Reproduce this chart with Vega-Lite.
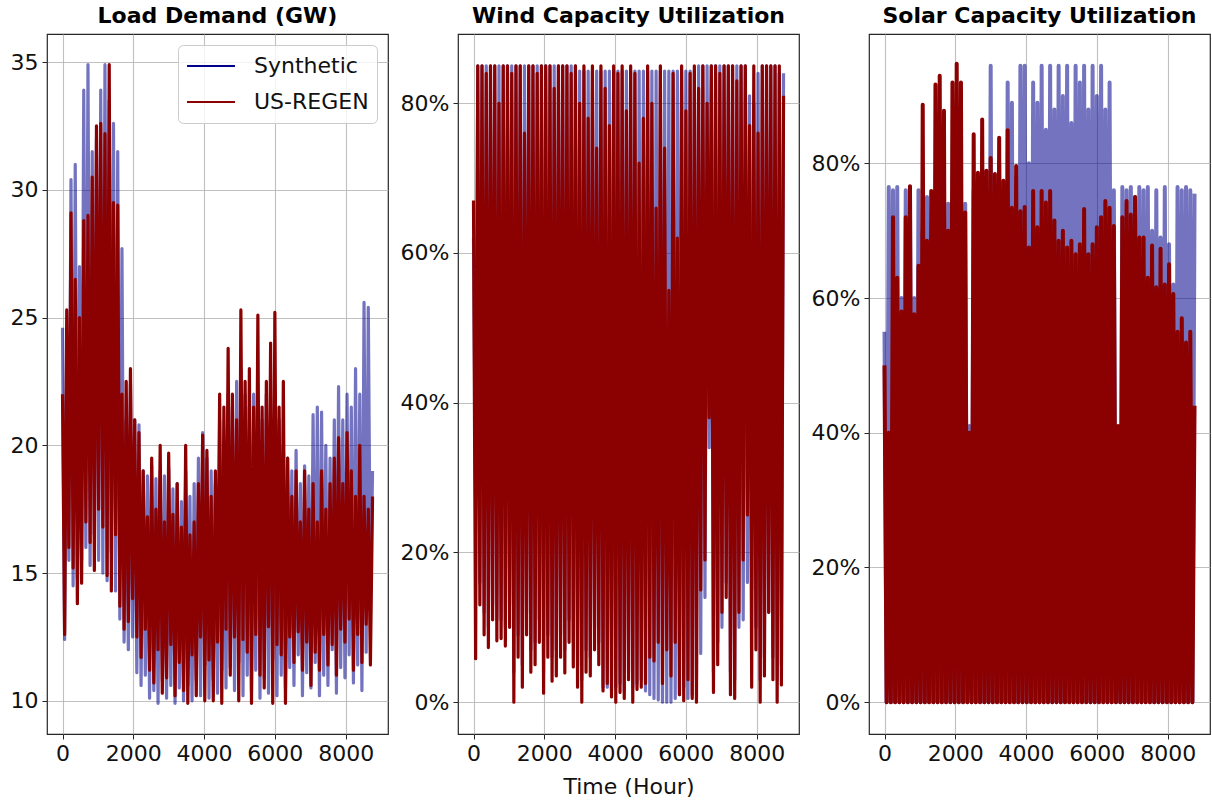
{
 "$schema": "https://vega.github.io/schema/vega-lite/v6.json",
 "padding": {"left": 9, "top": 4, "right": 2, "bottom": 5},
 "background": "white",
 "spacing": 70,
 "bounds": "flush",
 "resolve": {"scale": {"color": "independent"}},
 "config": {
  "font": "DejaVu Sans",
  "view": {"stroke": "#262626", "strokeWidth": 1.2},
  "axis": {"labelFontSize": 22, "labelColor": "#111111", "tickColor": "#262626", "tickSize": 5, "labelPadding": 4, "domain": false, "gridColor": "#b0b0b0", "gridOpacity": 0.8, "gridWidth": 1.1, "titleFontSize": 22, "titleFontWeight": "normal", "titleColor": "#111111", "titlePadding": 12},
  "title": {"fontSize": 22, "fontWeight": "bold", "offset": 6, "color": "#000000"},
  "legend": {"fillColor": "rgba(255,255,255,0.8)", "strokeColor": "#cccccc", "cornerRadius": 5, "padding": 8, "labelFontSize": 22, "labelColor": "#111111", "symbolType": "stroke", "symbolSize": 2300, "symbolStrokeWidth": 2, "labelOffset": 18, "clipHeight": 26, "rowPadding": 10, "labelLimit": 300}
 },
 "datasets": {
  "load": [
{"h":0,"Synthetic":24.6,"US-REGEN":22},{"h":60,"Synthetic":12.4,"US-REGEN":12.6},{"h":120,"Synthetic":24,"US-REGEN":25.3},{"h":180,"Synthetic":15.5,"US-REGEN":16},{"h":240,"Synthetic":30.4,"US-REGEN":29.1},{"h":300,"Synthetic":14.5,"US-REGEN":15.2},{"h":360,"Synthetic":31,"US-REGEN":26.5},{"h":420,"Synthetic":14.8,"US-REGEN":13.8},{"h":480,"Synthetic":27,"US-REGEN":25},{"h":540,"Synthetic":15.5,"US-REGEN":14.6},
{"h":600,"Synthetic":33.9,"US-REGEN":28.8},{"h":660,"Synthetic":16,"US-REGEN":17},{"h":720,"Synthetic":34.9,"US-REGEN":29},{"h":780,"Synthetic":15.3,"US-REGEN":16.2},{"h":840,"Synthetic":31.5,"US-REGEN":30.5},{"h":900,"Synthetic":16.5,"US-REGEN":15.1},{"h":960,"Synthetic":32,"US-REGEN":32.5},{"h":1020,"Synthetic":15.5,"US-REGEN":17.5},{"h":1080,"Synthetic":33.9,"US-REGEN":32.6},{"h":1140,"Synthetic":15,"US-REGEN":16.8},
{"h":1200,"Synthetic":34.9,"US-REGEN":32.2},{"h":1260,"Synthetic":14.7,"US-REGEN":14.9},{"h":1320,"Synthetic":33.5,"US-REGEN":34.9},{"h":1380,"Synthetic":15.8,"US-REGEN":14.3},{"h":1440,"Synthetic":32.6,"US-REGEN":29.5},{"h":1500,"Synthetic":14.3,"US-REGEN":16.5},{"h":1560,"Synthetic":31.5,"US-REGEN":29.4},{"h":1620,"Synthetic":13.2,"US-REGEN":13.7},{"h":1680,"Synthetic":27.7,"US-REGEN":22},{"h":1740,"Synthetic":12.3,"US-REGEN":12.8},
{"h":1800,"Synthetic":21,"US-REGEN":22.5},{"h":1860,"Synthetic":12,"US-REGEN":13.1},{"h":1920,"Synthetic":22.4,"US-REGEN":23},{"h":1980,"Synthetic":12.5,"US-REGEN":14},{"h":2040,"Synthetic":21,"US-REGEN":21},{"h":2100,"Synthetic":11.1,"US-REGEN":12.5},{"h":2160,"Synthetic":20.8,"US-REGEN":20.5},{"h":2220,"Synthetic":10.6,"US-REGEN":11.7},{"h":2280,"Synthetic":19,"US-REGEN":19},{"h":2340,"Synthetic":11,"US-REGEN":12.8},
{"h":2400,"Synthetic":18.8,"US-REGEN":17.2},{"h":2460,"Synthetic":10.1,"US-REGEN":11.2},{"h":2520,"Synthetic":19.2,"US-REGEN":19.5},{"h":2580,"Synthetic":10.4,"US-REGEN":10.7},{"h":2640,"Synthetic":18.7,"US-REGEN":17.5},{"h":2700,"Synthetic":9.9,"US-REGEN":12},{"h":2760,"Synthetic":19,"US-REGEN":20},{"h":2820,"Synthetic":10.8,"US-REGEN":10.3},{"h":2880,"Synthetic":18.8,"US-REGEN":17},{"h":2940,"Synthetic":10.1,"US-REGEN":10.9},
{"h":3000,"Synthetic":19.1,"US-REGEN":19.7},{"h":3060,"Synthetic":10.6,"US-REGEN":12.2},{"h":3120,"Synthetic":18.3,"US-REGEN":17.3},{"h":3180,"Synthetic":9.9,"US-REGEN":10.2},{"h":3240,"Synthetic":18.5,"US-REGEN":18.5},{"h":3300,"Synthetic":10.5,"US-REGEN":11.5},{"h":3360,"Synthetic":17.8,"US-REGEN":16.8},{"h":3420,"Synthetic":10,"US-REGEN":10.4},{"h":3480,"Synthetic":19,"US-REGEN":20},{"h":3540,"Synthetic":10.6,"US-REGEN":9.9},
{"h":3600,"Synthetic":18,"US-REGEN":16.5},{"h":3660,"Synthetic":10,"US-REGEN":11.8},{"h":3720,"Synthetic":18.5,"US-REGEN":17},{"h":3780,"Synthetic":10.8,"US-REGEN":10.2},{"h":3840,"Synthetic":19.5,"US-REGEN":18.5},{"h":3900,"Synthetic":10.2,"US-REGEN":12.5},{"h":3960,"Synthetic":20.5,"US-REGEN":20.4},{"h":4020,"Synthetic":11.4,"US-REGEN":10},{"h":4080,"Synthetic":19.5,"US-REGEN":19.8},{"h":4140,"Synthetic":10.1,"US-REGEN":11.6},
{"h":4200,"Synthetic":19,"US-REGEN":18},{"h":4260,"Synthetic":10.8,"US-REGEN":10},{"h":4320,"Synthetic":18.5,"US-REGEN":19},{"h":4380,"Synthetic":10.3,"US-REGEN":12.3},{"h":4440,"Synthetic":21,"US-REGEN":22},{"h":4500,"Synthetic":11.2,"US-REGEN":9.9},{"h":4560,"Synthetic":20,"US-REGEN":21.5},{"h":4620,"Synthetic":10.5,"US-REGEN":12.8},{"h":4680,"Synthetic":22,"US-REGEN":23.8},{"h":4740,"Synthetic":11.3,"US-REGEN":11},
{"h":4800,"Synthetic":21.5,"US-REGEN":22},{"h":4860,"Synthetic":10.4,"US-REGEN":12.5},{"h":4920,"Synthetic":22.5,"US-REGEN":21},{"h":4980,"Synthetic":11.5,"US-REGEN":10},{"h":5040,"Synthetic":23,"US-REGEN":25.3},{"h":5100,"Synthetic":10.2,"US-REGEN":12.4},{"h":5160,"Synthetic":22,"US-REGEN":22.5},{"h":5220,"Synthetic":11,"US-REGEN":11.9},{"h":5280,"Synthetic":21.5,"US-REGEN":23},{"h":5340,"Synthetic":10.4,"US-REGEN":9.9},
{"h":5400,"Synthetic":22,"US-REGEN":21.5},{"h":5460,"Synthetic":11.2,"US-REGEN":12.6},{"h":5520,"Synthetic":21.8,"US-REGEN":25.1},{"h":5580,"Synthetic":10.1,"US-REGEN":11},{"h":5640,"Synthetic":21,"US-REGEN":21.5},{"h":5700,"Synthetic":10.9,"US-REGEN":10.5},{"h":5760,"Synthetic":22,"US-REGEN":22.5},{"h":5820,"Synthetic":10.3,"US-REGEN":12.9},{"h":5880,"Synthetic":21,"US-REGEN":24},{"h":5940,"Synthetic":11.6,"US-REGEN":9.9},
{"h":6000,"Synthetic":22,"US-REGEN":25.2},{"h":6060,"Synthetic":10.2,"US-REGEN":12.2},{"h":6120,"Synthetic":21,"US-REGEN":21.5},{"h":6180,"Synthetic":11,"US-REGEN":11.8},{"h":6240,"Synthetic":20,"US-REGEN":22.5},{"h":6300,"Synthetic":10.5,"US-REGEN":9.9},{"h":6360,"Synthetic":19.5,"US-REGEN":19.5},{"h":6420,"Synthetic":11.3,"US-REGEN":12.5},{"h":6480,"Synthetic":19,"US-REGEN":18},{"h":6540,"Synthetic":10.6,"US-REGEN":11.5},
{"h":6600,"Synthetic":19.8,"US-REGEN":19},{"h":6660,"Synthetic":11.8,"US-REGEN":12.7},{"h":6720,"Synthetic":18.5,"US-REGEN":17},{"h":6780,"Synthetic":10.2,"US-REGEN":11.2},{"h":6840,"Synthetic":19.2,"US-REGEN":19},{"h":6900,"Synthetic":11.1,"US-REGEN":12.3},{"h":6960,"Synthetic":18.8,"US-REGEN":17.5},{"h":7020,"Synthetic":10.5,"US-REGEN":10.6},{"h":7080,"Synthetic":21.2,"US-REGEN":18.5},{"h":7140,"Synthetic":11.5,"US-REGEN":11.9},
{"h":7200,"Synthetic":21.5,"US-REGEN":17},{"h":7260,"Synthetic":10.2,"US-REGEN":11.2},{"h":7320,"Synthetic":21.3,"US-REGEN":19},{"h":7380,"Synthetic":11,"US-REGEN":12.6},{"h":7440,"Synthetic":20,"US-REGEN":17.5},{"h":7500,"Synthetic":10.6,"US-REGEN":11.4},{"h":7560,"Synthetic":19.5,"US-REGEN":18.5},{"h":7620,"Synthetic":12,"US-REGEN":12.2},{"h":7680,"Synthetic":21,"US-REGEN":19.5},{"h":7740,"Synthetic":10.3,"US-REGEN":11},
{"h":7800,"Synthetic":22.3,"US-REGEN":20.3},{"h":7860,"Synthetic":11.3,"US-REGEN":12.8},{"h":7920,"Synthetic":21,"US-REGEN":18.5},{"h":7980,"Synthetic":10.9,"US-REGEN":12.3},{"h":8040,"Synthetic":22,"US-REGEN":20.5},{"h":8100,"Synthetic":11.8,"US-REGEN":13.2},{"h":8160,"Synthetic":21.5,"US-REGEN":19},{"h":8220,"Synthetic":10.7,"US-REGEN":11.2},{"h":8280,"Synthetic":23,"US-REGEN":18},{"h":8340,"Synthetic":11.4,"US-REGEN":12.6},
{"h":8400,"Synthetic":22,"US-REGEN":20},{"h":8460,"Synthetic":10.4,"US-REGEN":11.5},{"h":8520,"Synthetic":25.6,"US-REGEN":18},{"h":8580,"Synthetic":11.9,"US-REGEN":13},{"h":8640,"Synthetic":25.4,"US-REGEN":17.5},{"h":8700,"Synthetic":13.9,"US-REGEN":11.4},{"h":8760,"Synthetic":19,"US-REGEN":18}
  ],
  "wind": [
{"h":0,"Synthetic":62,"US-REGEN":67},{"h":60,"Synthetic":26,"US-REGEN":5.8},{"h":120,"Synthetic":85,"US-REGEN":85},{"h":180,"Synthetic":16,"US-REGEN":13},{"h":240,"Synthetic":85,"US-REGEN":85},{"h":300,"Synthetic":12,"US-REGEN":9},{"h":360,"Synthetic":85,"US-REGEN":84},{"h":420,"Synthetic":10,"US-REGEN":7.3},{"h":480,"Synthetic":85,"US-REGEN":85},{"h":540,"Synthetic":13,"US-REGEN":11},
{"h":600,"Synthetic":85,"US-REGEN":85},{"h":660,"Synthetic":11,"US-REGEN":8.2},{"h":720,"Synthetic":85,"US-REGEN":80},{"h":780,"Synthetic":11,"US-REGEN":8.5},{"h":840,"Synthetic":85,"US-REGEN":85},{"h":900,"Synthetic":10,"US-REGEN":7.5},{"h":960,"Synthetic":85,"US-REGEN":85},{"h":1020,"Synthetic":13,"US-REGEN":10},{"h":1080,"Synthetic":85,"US-REGEN":84},{"h":1140,"Synthetic":4,"US-REGEN":0},
{"h":1200,"Synthetic":85,"US-REGEN":85},{"h":1260,"Synthetic":9,"US-REGEN":6},{"h":1320,"Synthetic":85,"US-REGEN":85},{"h":1380,"Synthetic":5,"US-REGEN":2},{"h":1440,"Synthetic":85,"US-REGEN":76},{"h":1500,"Synthetic":12,"US-REGEN":9},{"h":1560,"Synthetic":85,"US-REGEN":85},{"h":1620,"Synthetic":7,"US-REGEN":4},{"h":1680,"Synthetic":85,"US-REGEN":85},{"h":1740,"Synthetic":8,"US-REGEN":5},
{"h":1800,"Synthetic":85,"US-REGEN":84},{"h":1860,"Synthetic":11,"US-REGEN":8},{"h":1920,"Synthetic":85,"US-REGEN":85},{"h":1980,"Synthetic":4,"US-REGEN":1.2},{"h":2040,"Synthetic":85,"US-REGEN":85},{"h":2100,"Synthetic":9,"US-REGEN":6},{"h":2160,"Synthetic":85,"US-REGEN":85},{"h":2220,"Synthetic":6,"US-REGEN":2.8},{"h":2280,"Synthetic":85,"US-REGEN":82},{"h":2340,"Synthetic":7,"US-REGEN":3.5},
{"h":2400,"Synthetic":85,"US-REGEN":85},{"h":2460,"Synthetic":9,"US-REGEN":6},{"h":2520,"Synthetic":85,"US-REGEN":85},{"h":2580,"Synthetic":7,"US-REGEN":3.9},{"h":2640,"Synthetic":85,"US-REGEN":85},{"h":2700,"Synthetic":11,"US-REGEN":8},{"h":2760,"Synthetic":85,"US-REGEN":84},{"h":2820,"Synthetic":8,"US-REGEN":4.7},{"h":2880,"Synthetic":85,"US-REGEN":85},{"h":2940,"Synthetic":5,"US-REGEN":2},
{"h":3000,"Synthetic":84.3,"US-REGEN":80},{"h":3060,"Synthetic":3,"US-REGEN":0},{"h":3120,"Synthetic":84.3,"US-REGEN":85},{"h":3180,"Synthetic":7,"US-REGEN":4},{"h":3240,"Synthetic":84.3,"US-REGEN":78},{"h":3300,"Synthetic":6,"US-REGEN":3.5},{"h":3360,"Synthetic":84.3,"US-REGEN":85},{"h":3420,"Synthetic":10,"US-REGEN":7},{"h":3480,"Synthetic":84.3,"US-REGEN":74},{"h":3540,"Synthetic":8,"US-REGEN":5},
{"h":3600,"Synthetic":84.3,"US-REGEN":85},{"h":3660,"Synthetic":2,"US-REGEN":1.5},{"h":3720,"Synthetic":84.3,"US-REGEN":82},{"h":3780,"Synthetic":2,"US-REGEN":2.5},{"h":3840,"Synthetic":84.3,"US-REGEN":77},{"h":3900,"Synthetic":1.5,"US-REGEN":0.7},{"h":3960,"Synthetic":84.3,"US-REGEN":85},{"h":4020,"Synthetic":2,"US-REGEN":0},{"h":4080,"Synthetic":84.3,"US-REGEN":84},{"h":4140,"Synthetic":2.5,"US-REGEN":1.3},
{"h":4200,"Synthetic":84.3,"US-REGEN":85},{"h":4260,"Synthetic":1.5,"US-REGEN":0.5},{"h":4320,"Synthetic":84.3,"US-REGEN":79},{"h":4380,"Synthetic":4,"US-REGEN":3},{"h":4440,"Synthetic":84.3,"US-REGEN":85},{"h":4500,"Synthetic":2,"US-REGEN":0},{"h":4560,"Synthetic":84.3,"US-REGEN":84},{"h":4620,"Synthetic":2.5,"US-REGEN":1.7},{"h":4680,"Synthetic":84.3,"US-REGEN":72},{"h":4740,"Synthetic":3,"US-REGEN":2},
{"h":4800,"Synthetic":84.3,"US-REGEN":78},{"h":4860,"Synthetic":1.5,"US-REGEN":2.5},{"h":4920,"Synthetic":84.3,"US-REGEN":85},{"h":4980,"Synthetic":1,"US-REGEN":6},{"h":5040,"Synthetic":84.3,"US-REGEN":80},{"h":5100,"Synthetic":0.5,"US-REGEN":5.5},{"h":5160,"Synthetic":84.3,"US-REGEN":66},{"h":5220,"Synthetic":0.3,"US-REGEN":8},{"h":5280,"Synthetic":84.3,"US-REGEN":85},{"h":5340,"Synthetic":0,"US-REGEN":2.5},
{"h":5400,"Synthetic":84.3,"US-REGEN":74},{"h":5460,"Synthetic":0,"US-REGEN":7},{"h":5520,"Synthetic":84.3,"US-REGEN":55},{"h":5580,"Synthetic":0,"US-REGEN":3.5},{"h":5640,"Synthetic":84.3,"US-REGEN":84},{"h":5700,"Synthetic":0.5,"US-REGEN":8},{"h":5760,"Synthetic":84.3,"US-REGEN":62},{"h":5820,"Synthetic":1,"US-REGEN":1},{"h":5880,"Synthetic":84.3,"US-REGEN":85},{"h":5940,"Synthetic":2,"US-REGEN":0.2},
{"h":6000,"Synthetic":84.3,"US-REGEN":79},{"h":6060,"Synthetic":0.5,"US-REGEN":3},{"h":6120,"Synthetic":84.3,"US-REGEN":84},{"h":6180,"Synthetic":1,"US-REGEN":0.5},{"h":6240,"Synthetic":84.3,"US-REGEN":85},{"h":6300,"Synthetic":3,"US-REGEN":0},{"h":6360,"Synthetic":85,"US-REGEN":82},{"h":6420,"Synthetic":6.5,"US-REGEN":15},{"h":6480,"Synthetic":85,"US-REGEN":85},{"h":6540,"Synthetic":14,"US-REGEN":19},
{"h":6600,"Synthetic":85,"US-REGEN":80},{"h":6660,"Synthetic":34,"US-REGEN":38},{"h":6720,"Synthetic":85,"US-REGEN":85},{"h":6780,"Synthetic":4,"US-REGEN":1.3},{"h":6840,"Synthetic":85,"US-REGEN":85},{"h":6900,"Synthetic":8,"US-REGEN":5},{"h":6960,"Synthetic":85,"US-REGEN":84},{"h":7020,"Synthetic":10,"US-REGEN":12},{"h":7080,"Synthetic":85,"US-REGEN":85},{"h":7140,"Synthetic":16,"US-REGEN":14},
{"h":7200,"Synthetic":85,"US-REGEN":85},{"h":7260,"Synthetic":4,"US-REGEN":1},{"h":7320,"Synthetic":85,"US-REGEN":85},{"h":7380,"Synthetic":3,"US-REGEN":0.5},{"h":7440,"Synthetic":85,"US-REGEN":83},{"h":7500,"Synthetic":10,"US-REGEN":12},{"h":7560,"Synthetic":85,"US-REGEN":85},{"h":7620,"Synthetic":11,"US-REGEN":19},{"h":7680,"Synthetic":85,"US-REGEN":85},{"h":7740,"Synthetic":16,"US-REGEN":25},
{"h":7800,"Synthetic":81,"US-REGEN":77},{"h":7860,"Synthetic":15,"US-REGEN":2},{"h":7920,"Synthetic":80,"US-REGEN":85},{"h":7980,"Synthetic":10,"US-REGEN":7},{"h":8040,"Synthetic":84,"US-REGEN":76},{"h":8100,"Synthetic":3,"US-REGEN":0},{"h":8160,"Synthetic":85,"US-REGEN":85},{"h":8220,"Synthetic":6,"US-REGEN":3.5},{"h":8280,"Synthetic":85,"US-REGEN":85},{"h":8340,"Synthetic":12,"US-REGEN":12},
{"h":8400,"Synthetic":85,"US-REGEN":85},{"h":8460,"Synthetic":6,"US-REGEN":3},{"h":8520,"Synthetic":85,"US-REGEN":85},{"h":8580,"Synthetic":3,"US-REGEN":0},{"h":8640,"Synthetic":84,"US-REGEN":85},{"h":8700,"Synthetic":5,"US-REGEN":2.3},{"h":8760,"Synthetic":84,"US-REGEN":81}
  ],
  "solar": [
{"h":0,"Synthetic":55,"US-REGEN":50},{"h":60,"Synthetic":0,"US-REGEN":0},{"h":120,"Synthetic":76.5,"US-REGEN":40},{"h":180,"Synthetic":0,"US-REGEN":0},{"h":240,"Synthetic":76,"US-REGEN":72},{"h":300,"Synthetic":0,"US-REGEN":0},{"h":360,"Synthetic":76.5,"US-REGEN":63},{"h":420,"Synthetic":0,"US-REGEN":0},{"h":480,"Synthetic":60,"US-REGEN":58},{"h":540,"Synthetic":0,"US-REGEN":0},
{"h":600,"Synthetic":76,"US-REGEN":72},{"h":660,"Synthetic":0,"US-REGEN":0},{"h":720,"Synthetic":76.5,"US-REGEN":76.6},{"h":780,"Synthetic":0,"US-REGEN":0},{"h":840,"Synthetic":60,"US-REGEN":57.6},{"h":900,"Synthetic":0,"US-REGEN":0},{"h":960,"Synthetic":76,"US-REGEN":64.8},{"h":1020,"Synthetic":0,"US-REGEN":0},{"h":1080,"Synthetic":70,"US-REGEN":88.7},{"h":1140,"Synthetic":0,"US-REGEN":0},
{"h":1200,"Synthetic":75,"US-REGEN":68.5},{"h":1260,"Synthetic":0,"US-REGEN":0},{"h":1320,"Synthetic":68,"US-REGEN":75.9},{"h":1380,"Synthetic":0,"US-REGEN":0},{"h":1440,"Synthetic":72,"US-REGEN":91.7},{"h":1500,"Synthetic":0,"US-REGEN":0},{"h":1560,"Synthetic":75,"US-REGEN":93},{"h":1620,"Synthetic":0,"US-REGEN":0},{"h":1680,"Synthetic":70,"US-REGEN":87.8},{"h":1740,"Synthetic":0,"US-REGEN":0},
{"h":1800,"Synthetic":74,"US-REGEN":70},{"h":1860,"Synthetic":0,"US-REGEN":0},{"h":1920,"Synthetic":68,"US-REGEN":92},{"h":1980,"Synthetic":0,"US-REGEN":0},{"h":2040,"Synthetic":76,"US-REGEN":94.8},{"h":2100,"Synthetic":0,"US-REGEN":0},{"h":2160,"Synthetic":72,"US-REGEN":92},{"h":2220,"Synthetic":0,"US-REGEN":0},{"h":2280,"Synthetic":74,"US-REGEN":72.7},{"h":2340,"Synthetic":0,"US-REGEN":0},
{"h":2400,"Synthetic":41,"US-REGEN":40},{"h":2460,"Synthetic":0,"US-REGEN":0},{"h":2520,"Synthetic":76,"US-REGEN":84.3},{"h":2580,"Synthetic":0,"US-REGEN":0},{"h":2640,"Synthetic":73,"US-REGEN":78.6},{"h":2700,"Synthetic":0,"US-REGEN":0},{"h":2760,"Synthetic":78,"US-REGEN":86.5},{"h":2820,"Synthetic":0,"US-REGEN":0},{"h":2880,"Synthetic":74,"US-REGEN":78.9},{"h":2940,"Synthetic":0,"US-REGEN":0},
{"h":3000,"Synthetic":94.5,"US-REGEN":80.8},{"h":3060,"Synthetic":0,"US-REGEN":0},{"h":3120,"Synthetic":77,"US-REGEN":78.4},{"h":3180,"Synthetic":0,"US-REGEN":0},{"h":3240,"Synthetic":80,"US-REGEN":83.8},{"h":3300,"Synthetic":0,"US-REGEN":0},{"h":3360,"Synthetic":75,"US-REGEN":77.4},{"h":3420,"Synthetic":0,"US-REGEN":0},{"h":3480,"Synthetic":92,"US-REGEN":84.9},{"h":3540,"Synthetic":0,"US-REGEN":0},
{"h":3600,"Synthetic":89,"US-REGEN":73.4},{"h":3660,"Synthetic":0,"US-REGEN":0},{"h":3720,"Synthetic":78,"US-REGEN":79.6},{"h":3780,"Synthetic":0,"US-REGEN":0},{"h":3840,"Synthetic":94.5,"US-REGEN":72.9},{"h":3900,"Synthetic":0,"US-REGEN":0},{"h":3960,"Synthetic":94.5,"US-REGEN":73.5},{"h":4020,"Synthetic":0,"US-REGEN":0},{"h":4080,"Synthetic":80,"US-REGEN":67.5},{"h":4140,"Synthetic":0,"US-REGEN":0},
{"h":4200,"Synthetic":92,"US-REGEN":75.9},{"h":4260,"Synthetic":0,"US-REGEN":0},{"h":4320,"Synthetic":89,"US-REGEN":70.5},{"h":4380,"Synthetic":0,"US-REGEN":0},{"h":4440,"Synthetic":94.5,"US-REGEN":75.9},{"h":4500,"Synthetic":0,"US-REGEN":0},{"h":4560,"Synthetic":85,"US-REGEN":74.2},{"h":4620,"Synthetic":0,"US-REGEN":0},{"h":4680,"Synthetic":94.5,"US-REGEN":75.9},{"h":4740,"Synthetic":0,"US-REGEN":0},
{"h":4800,"Synthetic":88,"US-REGEN":71.5},{"h":4860,"Synthetic":0,"US-REGEN":0},{"h":4920,"Synthetic":94.5,"US-REGEN":68.5},{"h":4980,"Synthetic":0,"US-REGEN":0},{"h":5040,"Synthetic":90,"US-REGEN":70},{"h":5100,"Synthetic":0,"US-REGEN":0},{"h":5160,"Synthetic":94.5,"US-REGEN":67.5},{"h":5220,"Synthetic":0,"US-REGEN":0},{"h":5280,"Synthetic":86,"US-REGEN":68.5},{"h":5340,"Synthetic":0,"US-REGEN":0},
{"h":5400,"Synthetic":94.5,"US-REGEN":66.5},{"h":5460,"Synthetic":0,"US-REGEN":0},{"h":5520,"Synthetic":92,"US-REGEN":68},{"h":5580,"Synthetic":0,"US-REGEN":0},{"h":5640,"Synthetic":94.5,"US-REGEN":73.2},{"h":5700,"Synthetic":0,"US-REGEN":0},{"h":5760,"Synthetic":88,"US-REGEN":66.5},{"h":5820,"Synthetic":0,"US-REGEN":0},{"h":5880,"Synthetic":94.5,"US-REGEN":68},{"h":5940,"Synthetic":0,"US-REGEN":0},
{"h":6000,"Synthetic":90,"US-REGEN":70.5},{"h":6060,"Synthetic":0,"US-REGEN":0},{"h":6120,"Synthetic":94.5,"US-REGEN":72},{"h":6180,"Synthetic":0,"US-REGEN":0},{"h":6240,"Synthetic":88,"US-REGEN":74.4},{"h":6300,"Synthetic":0,"US-REGEN":0},{"h":6360,"Synthetic":92,"US-REGEN":73.4},{"h":6420,"Synthetic":0,"US-REGEN":0},{"h":6480,"Synthetic":76,"US-REGEN":70.7},{"h":6540,"Synthetic":0,"US-REGEN":0},
{"h":6600,"Synthetic":40,"US-REGEN":41},{"h":6660,"Synthetic":0,"US-REGEN":0},{"h":6720,"Synthetic":76.5,"US-REGEN":72},{"h":6780,"Synthetic":0,"US-REGEN":0},{"h":6840,"Synthetic":76,"US-REGEN":74.4},{"h":6900,"Synthetic":0,"US-REGEN":0},{"h":6960,"Synthetic":76.5,"US-REGEN":72.4},{"h":7020,"Synthetic":0,"US-REGEN":0},{"h":7080,"Synthetic":75,"US-REGEN":75},{"h":7140,"Synthetic":0,"US-REGEN":0},
{"h":7200,"Synthetic":76.5,"US-REGEN":69},{"h":7260,"Synthetic":0,"US-REGEN":0},{"h":7320,"Synthetic":76,"US-REGEN":69},{"h":7380,"Synthetic":0,"US-REGEN":0},{"h":7440,"Synthetic":76.5,"US-REGEN":63},{"h":7500,"Synthetic":0,"US-REGEN":0},{"h":7560,"Synthetic":70,"US-REGEN":67.8},{"h":7620,"Synthetic":0,"US-REGEN":0},{"h":7680,"Synthetic":76,"US-REGEN":61.6},{"h":7740,"Synthetic":0,"US-REGEN":0},
{"h":7800,"Synthetic":69,"US-REGEN":67.3},{"h":7860,"Synthetic":0,"US-REGEN":0},{"h":7920,"Synthetic":76.5,"US-REGEN":62},{"h":7980,"Synthetic":0,"US-REGEN":0},{"h":8040,"Synthetic":68,"US-REGEN":65},{"h":8100,"Synthetic":0,"US-REGEN":0},{"h":8160,"Synthetic":62,"US-REGEN":60.6},{"h":8220,"Synthetic":0,"US-REGEN":0},{"h":8280,"Synthetic":76.5,"US-REGEN":55},{"h":8340,"Synthetic":0,"US-REGEN":0},
{"h":8400,"Synthetic":76,"US-REGEN":57},{"h":8460,"Synthetic":0,"US-REGEN":0},{"h":8520,"Synthetic":76.5,"US-REGEN":53.4},{"h":8580,"Synthetic":0,"US-REGEN":0},{"h":8640,"Synthetic":76,"US-REGEN":55},{"h":8700,"Synthetic":0,"US-REGEN":0},{"h":8760,"Synthetic":75.5,"US-REGEN":44}
  ]
 },
 "hconcat": [
  {
   "width": 341, "height": 700,
   "title": "Load Demand (GW)",
   "data": {"name": "load"},
   "transform": [{"fold": ["Synthetic", "US-REGEN"], "as": ["series", "value"]}],
   "mark": {"type": "line", "strokeWidth": 3.2, "strokeJoin": "round"},
   "encoding": {
    "x": {"field": "h", "type": "quantitative", "scale": {"domain": [-438, 9197], "nice": false, "zero": false}, "axis": {"values": [0, 2000, 4000, 6000, 8000], "format": "d", "title": null}},
    "y": {"field": "value", "type": "quantitative", "scale": {"domain": [8.7, 36.1], "nice": false, "zero": false}, "axis": {"values": [10, 15, 20, 25, 30, 35], "title": null}},
    "color": {"field": "series", "type": "nominal", "scale": {"domain": ["Synthetic", "US-REGEN"], "range": ["#00008b", "#8b0000"]}, "legend": {"title": null, "orient": "top-right", "offset": 11, "symbolOpacity": 1}},
    "opacity": {"condition": {"test": "datum.series === 'Synthetic'", "value": 0.55}, "value": 1}
   }
  },
  {
   "width": 341, "height": 700,
   "title": "Wind Capacity Utilization",
   "data": {"name": "wind"},
   "transform": [{"fold": ["Synthetic", "US-REGEN"], "as": ["series", "value"]}],
   "mark": {"type": "line", "strokeWidth": 3.2, "strokeJoin": "round"},
   "encoding": {
    "x": {"field": "h", "type": "quantitative", "scale": {"domain": [-438, 9197], "nice": false, "zero": false}, "axis": {"values": [0, 2000, 4000, 6000, 8000], "format": "d", "title": "Time (Hour)"}},
    "y": {"field": "value", "type": "quantitative", "scale": {"domain": [-4.25, 89.25], "nice": false, "zero": false}, "axis": {"values": [0, 20, 40, 60, 80], "labelExpr": "datum.value + '%'", "title": null}},
    "color": {"field": "series", "type": "nominal", "scale": {"domain": ["Synthetic", "US-REGEN"], "range": ["#00008b", "#8b0000"]}, "legend": null},
    "opacity": {"condition": {"test": "datum.series === 'Synthetic'", "value": 0.55}, "value": 1}
   }
  },
  {
   "width": 341, "height": 700,
   "title": "Solar Capacity Utilization",
   "data": {"name": "solar"},
   "transform": [{"fold": ["Synthetic", "US-REGEN"], "as": ["series", "value"]}],
   "mark": {"type": "line", "strokeWidth": 4, "strokeJoin": "round"},
   "encoding": {
    "x": {"field": "h", "type": "quantitative", "scale": {"domain": [-438, 9197], "nice": false, "zero": false}, "axis": {"values": [0, 2000, 4000, 6000, 8000], "format": "d", "title": null}},
    "y": {"field": "value", "type": "quantitative", "scale": {"domain": [-4.73, 99.2], "nice": false, "zero": false}, "axis": {"values": [0, 20, 40, 60, 80], "labelExpr": "datum.value + '%'", "title": null}},
    "color": {"field": "series", "type": "nominal", "scale": {"domain": ["Synthetic", "US-REGEN"], "range": ["#00008b", "#8b0000"]}, "legend": null},
    "opacity": {"condition": {"test": "datum.series === 'Synthetic'", "value": 0.55}, "value": 1}
   }
  }
 ]
}
